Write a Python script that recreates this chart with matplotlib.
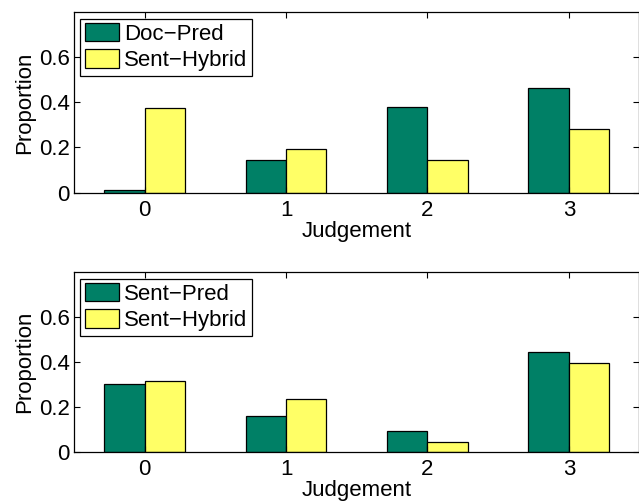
import matplotlib
matplotlib.use("Agg")
import matplotlib.pyplot as plt
import numpy as np

plt.rcParams['font.family'] = ['Liberation Sans', 'DejaVu Sans']

categories = ["0", "1", "2", "3"]
doc_pred = [0.011, 0.146, 0.377, 0.46]
sent_hybrid_top = [0.375, 0.192, 0.144, 0.28]
sent_pred = [0.301, 0.159, 0.094, 0.444]
sent_hybrid_bottom = [0.315, 0.237, 0.047, 0.396]
ytick_vals = [0, 0.2, 0.4, 0.6]
ytick_labels = ["0", "0.2", "0.4", "0.6"]

green = "#008066"
yellow = "#ffff66"
FS = 16

fig = plt.figure(figsize=(6.39, 5.03), dpi=100)
W, H = 639, 503

def make_ax(top_px, bottom_px):
    left = 74 / W
    right = 639.5 / W
    return fig.add_axes([left, (H - bottom_px) / H, right - left, (bottom_px - top_px) / H])

def draw(ax, s1, s2, names):
    x = np.arange(len(categories))
    w = 0.286
    ax.bar(x - w / 2, s1, width=w, color=green, edgecolor="black", linewidth=0.9, label=names[0])
    ax.bar(x + w / 2, s2, width=w, color=yellow, edgecolor="black", linewidth=0.9, label=names[1])
    ax.set_xlim(-0.5, 3.5)
    ax.set_ylim(0, 0.796)
    ax.set_xticks(x)
    ax.set_xticklabels(categories)
    ax.set_yticks(ytick_vals)
    ax.set_yticklabels(ytick_labels)
    ax.tick_params(direction="in", top=True, right=True, length=4, width=0.8,
                   labelsize=FS)
    ax.tick_params(axis="y", pad=3)
    ax.tick_params(axis="x", pad=5)
    for sp in ax.spines.values():
        sp.set_linewidth(0.9)
    ax.set_xlabel("Judgement", fontsize=FS, labelpad=0)
    ax.set_ylabel("Proportion", fontsize=FS, labelpad=3)
    leg = ax.legend(loc="upper left", fontsize=FS, frameon=True, fancybox=False,
                    edgecolor="black", framealpha=1, handlelength=1.55, handleheight=0.9,
                    handletextpad=0.22, borderpad=0.2, labelspacing=0.2,
                    borderaxespad=0.28)
    leg.get_frame().set_linewidth(0.9)

ax1 = make_ax(12.3, 192.7)
draw(ax1, doc_pred, sent_hybrid_top, ["Doc\u2212Pred", "Sent\u2212Hybrid"])
ax2 = make_ax(272.3, 452.3)
draw(ax2, sent_pred, sent_hybrid_bottom, ["Sent\u2212Pred", "Sent\u2212Hybrid"])

fig.savefig("out.png", dpi=100)
